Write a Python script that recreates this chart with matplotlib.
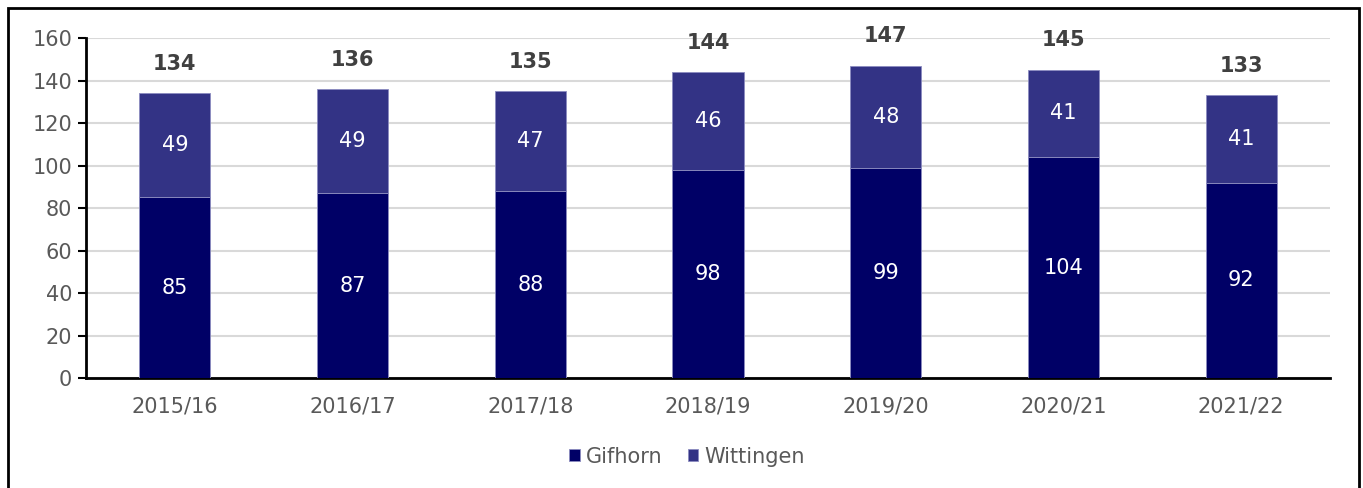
import matplotlib.pyplot as plt
from matplotlib.patches import Rectangle
import numpy as np

jahre = ['2015/16', '2016/17', '2017/18', '2018/19', '2019/20', '2020/21', '2021/22']
gifhorn = [85, 87, 88, 98, 99, 104, 92]
wittingen = [49, 49, 47, 46, 48, 41, 41]
gesamt = [134, 136, 135, 144, 147, 145, 133]

plt.rcParams['font.family'] = ['DejaVu Sans']

fig = plt.figure(figsize=(13.63, 4.88), dpi=100)
ax = fig.add_axes([0.0631, 0.2254, 0.9127, 0.6967])

# Rahmen um die ganze Grafik
fig.patches.append(Rectangle((8 / 1363, -0.1), 1351 / 1363, 1.1 - 8 / 488,
                             transform=fig.transFigure, fill=False,
                             edgecolor='black', linewidth=2))

x = np.arange(len(jahre))
b1 = ax.bar(x, gifhorn, width=0.4, color='#000066', edgecolor='#8c8cc0',
            linewidth=0.6, label='Gifhorn', zorder=3)
b2 = ax.bar(x, wittingen, width=0.4, bottom=gifhorn, color='#333385',
            edgecolor='#8c8cc0', linewidth=0.6, label='Wittingen', zorder=3)

for i in range(len(jahre)):
    ax.text(x[i], gifhorn[i] / 2, str(gifhorn[i]), ha='center', va='center',
            color='white', fontsize=15, zorder=4)
    ax.text(x[i], gifhorn[i] + wittingen[i] / 2, str(wittingen[i]), ha='center',
            va='center', color='white', fontsize=15, zorder=4)
    ax.annotate(str(gesamt[i]), (x[i], gesamt[i]), xytext=(0, 14),
                textcoords='offset points', ha='center', va='bottom',
                fontsize=15, fontweight='bold', color='#404040')

ax.set_xlim(-0.5, len(jahre) - 0.5)
ax.set_ylim(0, 160)
ax.set_yticks(range(0, 161, 20))
ax.set_xticks(x)
ax.set_xticklabels(jahre)
ax.yaxis.grid(True, color='#d9d9d9', linewidth=1.5, zorder=0)
ax.set_axisbelow(True)
for s in ['top', 'right']:
    ax.spines[s].set_visible(False)
ax.spines['left'].set_linewidth(2)
ax.spines['bottom'].set_linewidth(2)
ax.tick_params(axis='y', length=6, width=1.5, labelsize=15, labelcolor='#595959', pad=4)
ax.tick_params(axis='x', length=0, labelsize=15, labelcolor='#595959', pad=13)

fig.legend(handles=[b1, b2], loc='center', bbox_to_anchor=(0.504, 0.064), ncol=2,
           frameon=False, fontsize=15, labelcolor='#595959', handlelength=0.5,
           handleheight=0.5, handletextpad=0.3, columnspacing=1.2)

fig.savefig('out.png', dpi=100)
